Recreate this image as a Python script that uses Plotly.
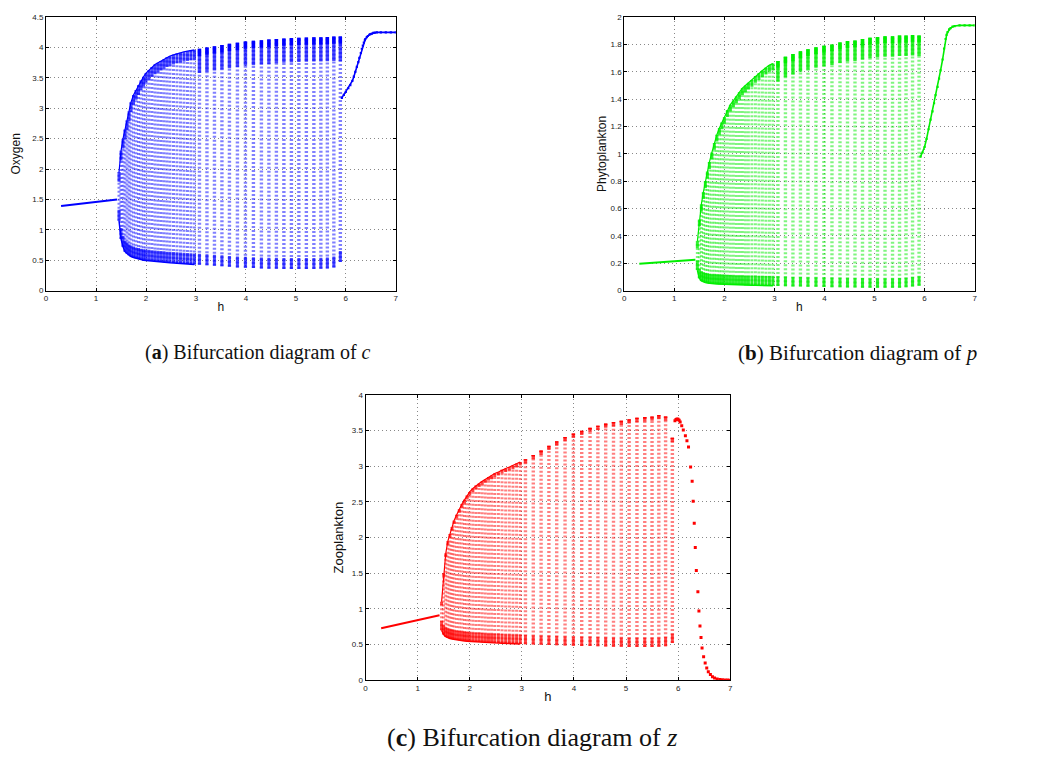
import plotly.graph_objects as go

# ---------------- data ----------------
h_steady = [0.3, 0.75, 1.1, 1.42]
c_steady = [1.39, 1.43, 1.46, 1.50]
p_steady = [0.196, 0.207, 0.216, 0.226]
z_steady = [0.73, 0.80, 0.85, 0.91]

h_dense = [1.46, 1.50, 1.54, 1.58, 1.62, 1.66, 1.70, 1.75, 1.80, 1.85, 1.90, 1.95, 2.00, 2.06,
           2.12, 2.18, 2.24, 2.30, 2.36, 2.42, 2.48, 2.55, 2.62, 2.69, 2.76, 2.83, 2.90, 2.97]
h_stripe = [3.07, 3.22, 3.37, 3.52, 3.67, 3.83, 3.99, 4.15, 4.31, 4.46,
            4.61, 4.76, 4.91, 5.06, 5.21, 5.36, 5.50, 5.63, 5.76, 5.89]

c_hi_dense = [1.95, 2.30, 2.50, 2.65, 2.80, 2.95, 3.10, 3.22, 3.30, 3.38, 3.46, 3.52, 3.58, 3.63,
              3.68, 3.72, 3.75, 3.78, 3.81, 3.84, 3.86, 3.88, 3.90, 3.915, 3.93, 3.94, 3.95, 3.96]
c_lo_dense = [1.15, 0.85, 0.72, 0.64, 0.61, 0.58, 0.56, 0.545, 0.53, 0.52, 0.51, 0.50, 0.495, 0.49,
              0.485, 0.48, 0.475, 0.47, 0.465, 0.46, 0.457, 0.454, 0.45, 0.446, 0.442, 0.438, 0.434, 0.43]
c_hi_stripe = [3.98, 4.00, 4.02, 4.04, 4.06, 4.08, 4.10, 4.11, 4.12, 4.13,
               4.14, 4.15, 4.155, 4.16, 4.165, 4.17, 4.17, 4.175, 4.18, 4.18]
c_lo_stripe = [0.425, 0.418, 0.41, 0.40, 0.39, 0.38, 0.375, 0.37, 0.365, 0.36,
               0.36, 0.355, 0.355, 0.355, 0.355, 0.355, 0.36, 0.365, 0.38, 0.47]

p_hi_dense = [0.36, 0.52, 0.63, 0.72, 0.80, 0.87, 0.94, 1.01, 1.08, 1.14, 1.19, 1.23, 1.27, 1.32,
              1.36, 1.39, 1.42, 1.45, 1.48, 1.50, 1.52, 1.54, 1.57, 1.59, 1.61, 1.63, 1.65, 1.66]
p_lo_dense = [0.15, 0.09, 0.07, 0.062, 0.058, 0.055, 0.052, 0.05, 0.049, 0.048, 0.047, 0.046, 0.045, 0.044,
              0.043, 0.042, 0.041, 0.04, 0.04, 0.039, 0.039, 0.038, 0.038, 0.037, 0.037, 0.036, 0.036, 0.035]
p_hi_stripe = [1.68, 1.71, 1.73, 1.75, 1.765, 1.78, 1.79, 1.80, 1.815, 1.825,
               1.83, 1.84, 1.85, 1.855, 1.86, 1.86, 1.865, 1.865, 1.87, 1.865]
p_lo_stripe = [0.034, 0.032, 0.03, 0.029, 0.028, 0.027, 0.026, 0.025, 0.024, 0.023,
               0.022, 0.021, 0.02, 0.02, 0.02, 0.02, 0.021, 0.024, 0.03, 0.035]

z_hi_dense = [1.10, 1.50, 1.78, 1.95, 2.05, 2.15, 2.24, 2.32, 2.40, 2.47, 2.53, 2.59, 2.64, 2.69,
              2.73, 2.76, 2.79, 2.82, 2.85, 2.87, 2.90, 2.92, 2.95, 2.97, 2.99, 3.01, 3.04, 3.06]
z_lo_dense = [0.70, 0.64, 0.61, 0.595, 0.585, 0.578, 0.572, 0.565, 0.56, 0.555, 0.55, 0.547, 0.544, 0.54,
              0.537, 0.534, 0.531, 0.528, 0.526, 0.524, 0.522, 0.52, 0.518, 0.516, 0.514, 0.512, 0.51, 0.508]
z_hi_stripe = [3.10, 3.16, 3.22, 3.29, 3.35, 3.41, 3.46, 3.50, 3.54, 3.57,
               3.60, 3.62, 3.64, 3.66, 3.68, 3.69, 3.70, 3.72, 3.70, 3.40]
z_lo_stripe = [0.505, 0.50, 0.497, 0.494, 0.49, 0.487, 0.484, 0.481, 0.478, 0.475,
               0.472, 0.47, 0.468, 0.466, 0.465, 0.465, 0.466, 0.468, 0.475, 0.52]

h_c_right = [5.92, 5.96, 6.0, 6.05, 6.09, 6.13, 6.16, 6.19, 6.22, 6.25, 6.27, 6.30, 6.32, 6.34, 6.36,
             6.38, 6.39, 6.42, 6.44, 6.47, 6.49, 6.52, 6.55, 6.58, 6.62, 6.7, 6.8, 6.9, 7.0]
c_right = [3.17, 3.22, 3.27, 3.33, 3.38, 3.45, 3.52, 3.60, 3.68, 3.76, 3.83, 3.91, 3.98, 4.03, 4.08,
           4.12, 4.14, 4.17, 4.19, 4.21, 4.22, 4.23, 4.24, 4.245, 4.25, 4.25, 4.25, 4.25, 4.25]
h_p_right = [5.92, 5.96, 6.0, 6.04, 6.08, 6.12, 6.16, 6.19, 6.22, 6.26, 6.29, 6.32, 6.36, 6.39, 6.42,
             6.44, 6.46, 6.49, 6.52, 6.56, 6.6, 6.7, 6.8, 6.9, 7.0]
p_right = [0.98, 1.01, 1.05, 1.11, 1.18, 1.25, 1.31, 1.37, 1.43, 1.49, 1.55, 1.61, 1.69, 1.77, 1.84,
           1.87, 1.89, 1.91, 1.92, 1.93, 1.935, 1.94, 1.94, 1.94, 1.94]
h_z_right = [5.94, 5.96, 5.98, 6.0, 6.02, 6.04, 6.07, 6.10, 6.14, 6.17, 6.2, 6.24, 6.27, 6.29, 6.31,
             6.33, 6.35, 6.38, 6.40, 6.42, 6.44, 6.46, 6.49, 6.52, 6.55, 6.58, 6.62, 6.66, 6.70,
             6.75, 6.80, 6.85, 6.90, 6.95, 7.0]
z_right = [3.64, 3.655, 3.665, 3.66, 3.645, 3.62, 3.57, 3.51, 3.43, 3.36, 3.27, 2.99, 2.79, 2.51, 2.20,
           1.86, 1.54, 1.24, 0.97, 0.76, 0.60, 0.45, 0.33, 0.24, 0.17, 0.12, 0.08, 0.05, 0.032,
           0.018, 0.01, 0.005, 0.003, 0.001, 0.0]

x_ticks = [0, 1, 2, 3, 4, 5, 6, 7]

# ---------------- helpers ----------------
def segs(hs, a, b):
    xs, ys = [], []
    for h, y0, y1 in zip(hs, a, b):
        xs += [h, h, None]
        ys += [y0, y1, None]
    return xs, ys


fig = go.Figure()


def add_panel(xa, ya, col, light, mid, hd, lod, hid, hs, los, his, top_d, top_s, top_s2, bot,
              hst, vst, hr, vr, right_mode, right_size, dense_w=3, stripe_w=3.4):
    common = dict(xaxis=xa, yaxis=ya, showlegend=False, hoverinfo="skip", mode="lines")
    # sparse middle of each column
    x, y = segs(hd, lod, hid)
    fig.add_trace(go.Scatter(x=x, y=y, line=dict(color=light, width=dense_w, dash="2px,2px"), **common))
    x, y = segs(hs, los, his)
    fig.add_trace(go.Scatter(x=x, y=y, line=dict(color=light, width=stripe_w, dash="2px,2px"), **common))
    # denser bands near the extremes
    x, y = segs(hs, [v - top_s2 for v in his], his)
    fig.add_trace(go.Scatter(x=x, y=y, line=dict(color=mid, width=stripe_w), **common))
    x, y = segs(hd, [v - top_d for v in hid], hid)
    fig.add_trace(go.Scatter(x=x, y=y, line=dict(color=mid, width=dense_w), **common))
    x, y = segs(hs, [v - top_s for v in his], his)
    fig.add_trace(go.Scatter(x=x, y=y, line=dict(color=col, width=stripe_w), **common))
    x, y = segs(hd + hs, lod + los, [v + bot for v in lod + los])
    fig.add_trace(go.Scatter(x=x, y=y, line=dict(color=mid, width=dense_w), **common))
    # envelopes of the continuous part
    fig.add_trace(go.Scatter(x=hd, y=hid, line=dict(color=col, width=1.2), **common))
    fig.add_trace(go.Scatter(x=hd, y=lod, line=dict(color=col, width=1.5), **common))
    # steady branch
    fig.add_trace(go.Scatter(x=hst, y=vst, line=dict(color=col, width=2), **common))
    # right branch
    c2 = dict(common)
    c2["mode"] = right_mode
    fig.add_trace(go.Scatter(x=hr, y=vr, line=dict(color=col, width=1.6),
                             marker=dict(color=col, size=right_size, symbol="square"), **c2))


add_panel("x", "y", "#0000ff", "rgba(0,0,255,0.5)", "rgba(0,0,255,0.7)",
          h_dense, c_lo_dense, c_hi_dense, h_stripe, c_lo_stripe, c_hi_stripe,
          0.16, 0.12, 0.4, 0.18, h_steady, c_steady, h_c_right, c_right, "lines+markers", 2.2)
add_panel("x2", "y2", "#00ee00", "rgba(0,235,0,0.5)", "rgba(0,235,0,0.8)",
          h_dense, p_lo_dense, p_hi_dense, h_stripe, p_lo_stripe, p_hi_stripe,
          0.05, 0.05, 0.15, 0.07, h_steady, p_steady, h_p_right, p_right, "lines+markers", 2.2)
add_panel("x3", "y3", "#ff0000", "rgba(255,0,0,0.5)", "rgba(255,0,0,0.72)",
          h_dense, z_lo_dense, z_hi_dense, h_stripe, z_lo_stripe, z_hi_stripe,
          0.05, 0.02, 0.06, 0.13, h_steady, z_steady, h_z_right, z_right, "markers", 3)

W, H = 1040, 760
FONT = "Liberation Sans, Arial, sans-serif"


def xaxis(px0, px1, anchor, fs, tfs, standoff):
    return dict(domain=[px0 / W, px1 / W], anchor=anchor, range=[0, 7], tickvals=x_ticks,
                showline=True, linecolor="black", linewidth=1, mirror="allticks",
                ticks="inside", ticklen=3, tickcolor="black", showgrid=True,
                gridcolor="#888888", griddash="1px,3px", gridwidth=1, zeroline=False,
                tickfont=dict(family=FONT, size=tfs, color="#222"),
                title=dict(text="h", font=dict(family=FONT, size=fs, color="#111"),
                           standoff=standoff))


def yaxis(py0, py1, anchor, rng, dt, label, fs, tfs, standoff):
    return dict(domain=[1 - py1 / H, 1 - py0 / H], anchor=anchor, range=rng, dtick=dt, tick0=0,
                showline=True, linecolor="black", linewidth=1, mirror="allticks",
                ticks="inside", ticklen=3, tickcolor="black", showgrid=True,
                gridcolor="#888888", griddash="1px,3px", gridwidth=1, zeroline=False,
                tickfont=dict(family=FONT, size=tfs, color="#222"),
                title=dict(text=label, font=dict(family=FONT, size=fs, color="#111"),
                           standoff=standoff))


cap_font = dict(family="Liberation Serif, Times New Roman, serif", color="#111")
annotations = [
    dict(text="(<b>a</b>) Bifurcation diagram of <i>c</i>", x=257 / W, y=1 - 353 / H, xanchor="center",
         yanchor="middle", xref="paper", yref="paper", showarrow=False, font=dict(size=20, **cap_font)),
    dict(text="(<b>b</b>) Bifurcation diagram of <i>p</i>", x=860 / W, y=1 - 353 / H, xanchor="center",
         yanchor="middle", xref="paper", yref="paper", showarrow=False, font=dict(size=21, **cap_font)),
    dict(text="(<b>c</b>) Bifurcation diagram of <i>z</i>", x=533 / W, y=1 - 742 / H, xanchor="center",
         yanchor="middle", xref="paper", yref="paper", showarrow=False, font=dict(size=26, **cap_font)),
]

fig.update_layout(
    width=W, height=H, autosize=False,
    margin=dict(l=0, r=0, t=0, b=0),
    paper_bgcolor="white", plot_bgcolor="white",
    xaxis=xaxis(44.3, 395.7, "y", 12, 8, 0),
    yaxis=yaxis(13.3, 290, "x", [0, 4.5], 0.5, "Oxygen", 12, 8, 9),
    xaxis2=xaxis(625.3, 977.3, "y2", 12, 8, 0),
    yaxis2=yaxis(13.3, 290, "x2", [0, 2], 0.2, "Phytoplankton", 12, 8, 1),
    xaxis3=xaxis(365.3, 731.7, "y3", 13, 8, 0),
    yaxis3=yaxis(395.7, 684.3, "x3", [0, 4], 0.5, "Zooplankton", 13, 8, 5),
    annotations=annotations,
)

fig.write_html("out.html", config={"displayModeBar": False},
               post_script="document.body.style.margin='0px';document.body.style.overflow='hidden';")
